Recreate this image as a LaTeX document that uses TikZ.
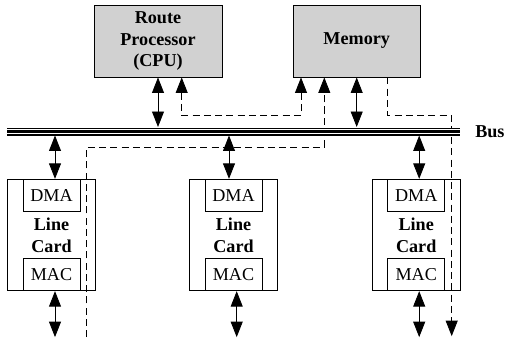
\documentclass[tikz,border=0pt]{standalone}
\usepackage{fontspec}
\setmainfont{Liberation Serif}
\usetikzlibrary{calc,arrows.meta}

\begin{document}
\begin{tikzpicture}[x=0.025cm,y=-0.025cm,
    font=\fontsize{12.9}{15.5}\selectfont,
    box/.style={draw,line width=0.6pt,inner sep=0pt},
    unit/.style={box,fill=black!18,minimum width=3.2cm,minimum height=1.8cm,
      font=\fontsize{12.9}{15.5}\selectfont\bfseries,align=center},
    card/.style={box,minimum width=2.21cm,minimum height=2.785cm,
      font=\fontsize{12.9}{15.5}\selectfont\bfseries,align=center},
    sub/.style={box,minimum width=1.425cm,minimum height=0.81cm},
    tip/.tip={Triangle[length=11pt,width=8.5pt]},
    bi/.style={line width=0.6pt,tip-tip},
    dsh/.style={line width=0.6pt,dash pattern=on 5pt off 3pt}]
  \useasboundingbox (0,0) rectangle (511,338);
  \node[unit] (cpu) at (158,41) {Route\\Processor\\(CPU)};
  \node[unit,minimum width=3.18cm] (mem) at (356.7,41) {Memory};
  \coordinate (busL) at (7,131.5);
  \coordinate (busR) at (460,131.5);
  \coordinate (busT) at (0,127);
  \coordinate (busB) at (0,135.5);
  \foreach \n/\x/\t/\b in {1/51.5/3.5/3.5,2/233.5/-4.5/3.2,3/416.2/3/3} {
    \node[card] (card\n) at (\x,235) {Line\\Card};
    \node[sub,anchor=north] (dma\n) at (card\n.north) {DMA};
    \node[sub,anchor=south] (mac\n) at (card\n.south) {MAC};
    \coordinate (top\n) at ($(card\n.north)+(\t,0)$);
    \draw[bi] (top\n |- busB) -- (top\n);
    \draw[bi] ($(card\n.south)+(\b,0)$) -- ++(0,46);
  }
  \draw[bi] (cpu.south) -- (cpu.south |- busT);
  \draw[bi] (mem.south) -- (mem.south |- busT);
  \draw[dsh,tip-tip]
    ($(cpu.south)+(23.7,0)$) -- ++(0,38) -| ($(mem.south)+(-55.7,0)$);
  \draw[dsh,-tip]
    ($(card1.south)+(35.2,46)$) |- ($(mem.south)+(-32.4,69.7)$) -- ($(mem.south)+(-32.4,0)$);
  \draw[dsh,-tip]
    ($(mem.south)+(31,0)$) -- ++(0,38) -| ($(card3.south)+(35.5,45)$);
  \draw[line width=5.7pt] (busL) -- (busR);
  \draw[white,line width=3.4pt] (busL) -- (busR);
  \draw[line width=2pt] (busL) -- (busR);
  \node[font=\fontsize{12.9}{15.5}\selectfont\bfseries,anchor=west,inner sep=0pt] (bus) at ($(busR)+(15,0)$) {Bus};
\end{tikzpicture}
\end{document}
